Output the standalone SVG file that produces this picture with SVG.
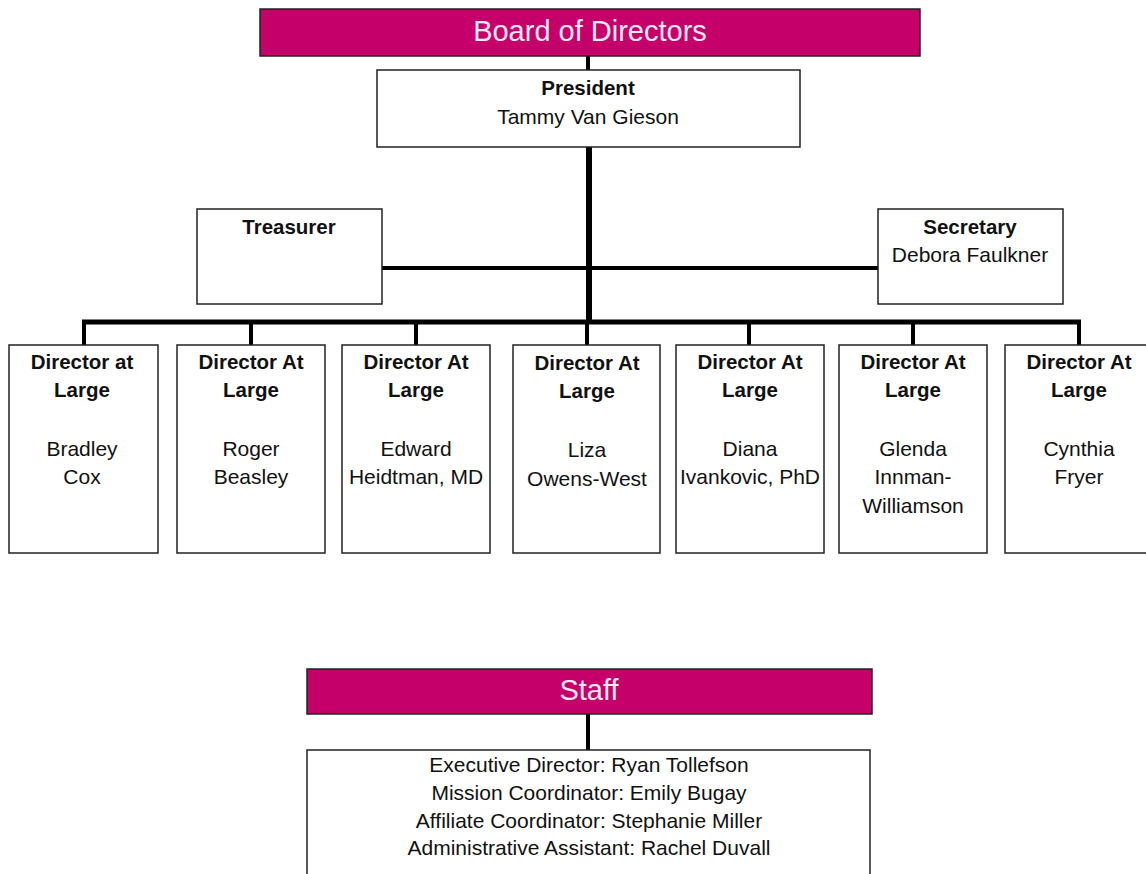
<svg xmlns="http://www.w3.org/2000/svg" width="1146" height="874" viewBox="0 0 1146 874">
<style>
.box{fill:#fff;stroke:#222;stroke-width:1.5}
.hdr{fill:#C6006A;stroke:#222;stroke-width:1.5}
.ht{font-family:"Liberation Sans",Arial,sans-serif;font-size:29px;fill:#fbe9f2;text-anchor:middle}
.b{font-family:"Liberation Sans",Arial,sans-serif;font-size:20.5px;font-weight:bold;fill:#111;text-anchor:middle}
.t{font-family:"Liberation Sans",Arial,sans-serif;font-size:21px;fill:#111;text-anchor:middle}
.ln{stroke:#000;fill:none}
</style>
<rect width="1146" height="874" fill="#fff"/>
<g id="connectors">
<line class="ln" x1="588" y1="56" x2="588" y2="70" stroke-width="4"/>
<line class="ln" x1="589" y1="147" x2="589" y2="323" stroke-width="6"/>
<line class="ln" x1="382" y1="268" x2="878" y2="268" stroke-width="4"/>
<line class="ln" x1="82" y1="322" x2="1081" y2="322" stroke-width="5"/>
<line class="ln" x1="84" y1="320" x2="84" y2="345" stroke-width="4"/>
<line class="ln" x1="251" y1="320" x2="251" y2="345" stroke-width="4"/>
<line class="ln" x1="416" y1="320" x2="416" y2="345" stroke-width="4"/>
<line class="ln" x1="587" y1="320" x2="587" y2="345" stroke-width="4"/>
<line class="ln" x1="749" y1="320" x2="749" y2="345" stroke-width="4"/>
<line class="ln" x1="913" y1="320" x2="913" y2="345" stroke-width="4"/>
<line class="ln" x1="1079" y1="320" x2="1079" y2="345" stroke-width="4"/>
<line class="ln" x1="588" y1="714" x2="588" y2="750" stroke-width="4"/>
</g>
<g id="board">
<rect class="hdr" x="260" y="9" width="660" height="47"/>
<text class="ht" x="590" y="41">Board of Directors</text>
</g>
<g id="president">
<rect class="box" x="377" y="70" width="423" height="77"/>
<text class="b" x="588" y="95">President</text>
<text class="t" x="588" y="124">Tammy Van Gieson</text>
</g>
<g id="treasurer">
<rect class="box" x="197" y="209" width="185" height="95"/>
<text class="b" x="289" y="234">Treasurer</text>
</g>
<g id="secretary">
<rect class="box" x="878" y="209" width="185" height="95"/>
<text class="b" x="970" y="234">Secretary</text>
<text class="t" x="970" y="262">Debora Faulkner</text>
</g>
<g id="dir1">
<rect class="box" x="9" y="345" width="149" height="208"/>
<text class="b" x="82" y="369">Director at</text>
<text class="b" x="82" y="397">Large</text>
<text class="t" x="82" y="456">Bradley</text>
<text class="t" x="82" y="484">Cox</text>
</g>
<g id="dir2">
<rect class="box" x="177" y="345" width="148" height="208"/>
<text class="b" x="251" y="369">Director At</text>
<text class="b" x="251" y="397">Large</text>
<text class="t" x="251" y="456">Roger</text>
<text class="t" x="251" y="484">Beasley</text>
</g>
<g id="dir3">
<rect class="box" x="342" y="345" width="148" height="208"/>
<text class="b" x="416" y="369">Director At</text>
<text class="b" x="416" y="397">Large</text>
<text class="t" x="416" y="456">Edward</text>
<text class="t" x="416" y="484">Heidtman, MD</text>
</g>
<g id="dir4">
<rect class="box" x="513" y="345" width="147" height="208"/>
<text class="b" x="587" y="370">Director At</text>
<text class="b" x="587" y="398">Large</text>
<text class="t" x="587" y="457">Liza</text>
<text class="t" x="587" y="486">Owens-West</text>
</g>
<g id="dir5">
<rect class="box" x="676" y="345" width="148" height="208"/>
<text class="b" x="750" y="369">Director At</text>
<text class="b" x="750" y="397">Large</text>
<text class="t" x="750" y="456">Diana</text>
<text class="t" x="750" y="484">Ivankovic, PhD</text>
</g>
<g id="dir6">
<rect class="box" x="839" y="345" width="148" height="208"/>
<text class="b" x="913" y="369">Director At</text>
<text class="b" x="913" y="397">Large</text>
<text class="t" x="913" y="456">Glenda</text>
<text class="t" x="913" y="484">Innman-</text>
<text class="t" x="913" y="513">Williamson</text>
</g>
<g id="dir7">
<rect class="box" x="1005" y="345" width="145" height="208"/>
<text class="b" x="1079" y="369">Director At</text>
<text class="b" x="1079" y="397">Large</text>
<text class="t" x="1079" y="456">Cynthia</text>
<text class="t" x="1079" y="484">Fryer</text>
</g>
<g id="staff">
<rect class="hdr" x="307" y="669" width="565" height="45"/>
<text class="ht" x="589" y="700">Staff</text>
</g>
<g id="staff-list">
<rect class="box" x="307" y="750" width="563" height="130"/>
<text class="t" x="589" y="772">Executive Director: Ryan Tollefson</text>
<text class="t" x="589" y="800">Mission Coordinator: Emily Bugay</text>
<text class="t" x="589" y="828">Affiliate Coordinator: Stephanie Miller</text>
<text class="t" x="589" y="855">Administrative Assistant: Rachel Duvall</text>
</g>
</svg>
